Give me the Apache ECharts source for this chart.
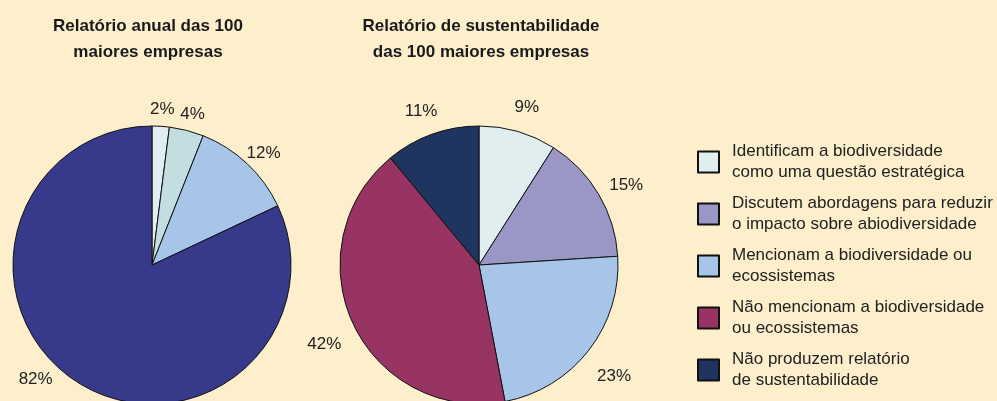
<!DOCTYPE html>
<html>
<head>
<meta charset="utf-8">
<script src="https://cdn.jsdelivr.net/npm/echarts@6/dist/echarts.min.js"></script>
<style>
  html, body { margin: 0; padding: 0; background: #FDEECC; }
  #chart { width: 997px; height: 401px; }
</style>
</head>
<body>
<div id="chart"></div>
<script>
// relatório anual (left pie)
const annualNames = ['Identificam (anual)', 'Discutem (anual)', 'Mencionam (anual)', 'Não mencionam (anual)']
const annualValues = [2, 4, 12, 82]
const annualColors = ['#DFEEF0', '#C3DDE1', '#A6C5E8', '#37398B']

// relatório de sustentabilidade (right pie)
const categories = [
  'Identificam a biodiversidade\ncomo uma questão estratégica',
  'Discutem abordagens para reduzir\no impacto sobre abiodiversidade',
  'Mencionam a biodiversidade ou\necossistemas',
  'Não mencionam a biodiversidade\nou ecossistemas',
  'Não produzem relatório\nde sustentabilidade'
]
const sustValues = [9, 15, 23, 42, 11]
const sustColors = ['#E0EEF0', '#9A96C6', '#A6C5E8', '#983463', '#1F355F']

const titles = ['Relatório anual das 100\nmaiores empresas', 'Relatório de sustentabilidade\ndas 100 maiores empresas']

const font = '"Liberation Sans", Arial, sans-serif'

function toData (names, values, colors) {
  return names.map((n, i) => ({ name: n, value: values[i], itemStyle: { color: colors[i] } }))
}

function pieSeries (data, center) {
  return {
    type: 'pie',
    center: center,
    radius: [0, 139],
    startAngle: 90,
    clockwise: true,
    silent: true,
    label: { show: false },
    labelLine: { show: false },
    itemStyle: { borderColor: '#111', borderWidth: 1 },
    data: data
  }
}

// invisible ring, only to put the percent labels around the pie
// nudge: label offsets for slices whose label sits away from the mid angle
function labelRing (names, values, center, outer, nudge) {
  return {
    type: 'pie',
    center: center,
    radius: [139, outer],
    startAngle: 90,
    clockwise: true,
    silent: true,
    legendHoverLink: false,
    itemStyle: { color: 'rgba(0,0,0,0)' },
    label: {
      show: true,
      position: 'inside',
      formatter: '{c}%',
      color: '#222',
      fontSize: 17,
      fontFamily: font,
      offset: [0, 7]
    },
    labelLine: { show: false },
    data: names.map((n, i) => {
      const d = { name: n + ' ', value: values[i] }
      if (nudge[i]) d.label = { offset: nudge[i] }
      return d
    })
  }
}

const chart = echarts.init(document.getElementById('chart'))
chart.setOption({
  backgroundColor: '#FDEECC',
  animation: false,
  title: [
    { text: titles[0], left: 143, top: 8, textAlign: 'center',
      textStyle: { fontSize: 17, fontWeight: 'bold', color: '#1a1a1a', fontFamily: font, lineHeight: 26 } },
    { text: titles[1], left: 476, top: 8, textAlign: 'center',
      textStyle: { fontSize: 17, fontWeight: 'bold', color: '#1a1a1a', fontFamily: font, lineHeight: 26 } }
  ],
  legend: {
    orient: 'vertical',
    left: 697,
    top: 141,
    padding: 0,
    icon: 'rect',
    itemWidth: 21,
    itemHeight: 21,
    itemGap: 10,
    selectedMode: false,
    data: categories,
    textStyle: { fontSize: 17, color: '#222', fontFamily: font, lineHeight: 21, padding: [0, 0, 0, 8] }
  },
  series: [
    pieSeries(toData(categories, sustValues, sustColors), [479, 265]),
    labelRing(categories, sustValues, [479, 265], 197, {}),
    pieSeries(toData(annualNames, annualValues, annualColors), [152, 265]),
    labelRing(annualNames, annualValues, [152, 265], 181, { 3: [-29, -23] })
  ]
})
</script>
</body>
</html>
